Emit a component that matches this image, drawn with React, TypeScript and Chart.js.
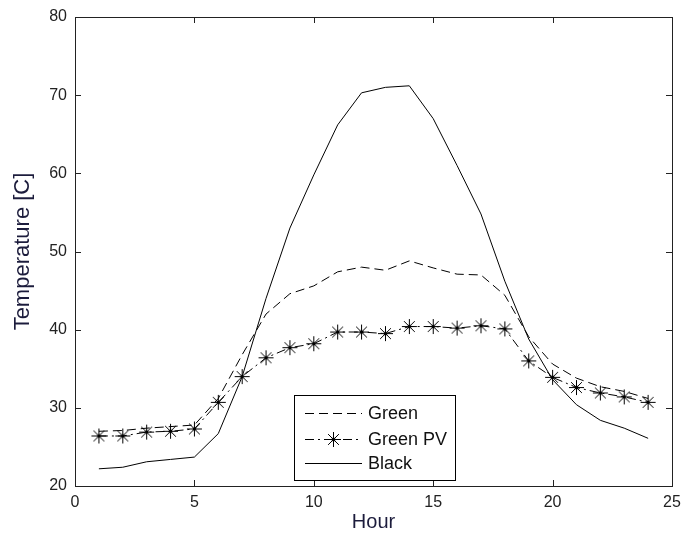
import React, { useEffect, useRef } from "react";
import { Chart, registerables } from "chart.js";

Chart.register(...registerables);

const hours = [1, 2, 3, 4, 5, 6, 7, 8, 9, 10, 11, 12, 13, 14, 15, 16, 17, 18, 19, 20, 21, 22, 23, 24];
const green = [27.0, 27.1, 27.4, 27.6, 27.8, 31.2, 36.8, 42.0, 44.6, 45.6, 47.4, 48.0, 47.6, 48.8, 47.9, 47.1, 47.0, 44.4, 39.1, 35.6, 33.8, 32.7, 32.1, 31.2];
const greenPV = [26.4, 26.4, 26.9, 27.0, 27.3, 30.7, 34.0, 36.4, 37.7, 38.2, 39.7, 39.7, 39.5, 40.4, 40.4, 40.2, 40.5, 40.1, 36.0, 33.9, 32.6, 31.9, 31.4, 30.7];
const black = [22.2, 22.4, 23.1, 23.4, 23.7, 26.7, 34.0, 44.0, 53.0, 59.8, 66.2, 70.3, 71.0, 71.2, 67.0, 61.0, 54.8, 46.2, 38.8, 33.6, 30.4, 28.4, 27.4, 26.1];
const seriesNames = ["Green", "Green PV", "Black"];
const xTicks = [0, 5, 10, 15, 20, 25];
const yTicks = [20, 30, 40, 50, 60, 70, 80];

const FONT = "'Liberation Sans', Arial, sans-serif";

function makeStar(): HTMLCanvasElement {
  const c = document.createElement("canvas");
  c.width = 17;
  c.height = 17;
  const g = c.getContext("2d")!;
  const cx = 8.5, cy = 8.5, r = 7.5;
  g.strokeStyle = "#000";
  g.lineWidth = 1;
  g.beginPath();
  g.moveTo(cx, cy - r); g.lineTo(cx, cy + r);
  g.moveTo(cx - r, cy); g.lineTo(cx + r, cy);
  const d = r * 0.72;
  g.moveTo(cx - d, cy - d); g.lineTo(cx + d, cy + d);
  g.moveTo(cx + d, cy - d); g.lineTo(cx - d, cy + d);
  g.stroke();
  g.fillStyle = "#000";
  g.beginPath();
  g.arc(cx, cy, 2, 0, Math.PI * 2);
  g.fill();
  return c;
}

export default function App() {
  const ref = useRef<HTMLCanvasElement>(null);
  useEffect(() => {
    const star = makeStar();
    const dashes = [[9, 5], [9, 4, 2, 4], []];

    const framePlugin = {
      id: "frame",
      afterDraw(chart: any) {
        const { ctx, chartArea: a } = chart;
        const xs = chart.scales.x, ys = chart.scales.y;
        ctx.save();
        ctx.strokeStyle = "#222";
        ctx.lineWidth = 1;
        ctx.setLineDash([]);
        ctx.strokeRect(Math.round(a.left) + 0.5, Math.round(a.top) + 0.5, Math.round(a.right - a.left), Math.round(a.bottom - a.top));
        const tl = 6;
        ctx.beginPath();
        xTicks.forEach((t) => {
          const px = Math.round(xs.getPixelForValue(t)) + 0.5;
          ctx.moveTo(px, a.bottom); ctx.lineTo(px, a.bottom - tl);
          ctx.moveTo(px, a.top); ctx.lineTo(px, a.top + tl);
        });
        yTicks.forEach((t) => {
          const py = Math.round(ys.getPixelForValue(t)) + 0.5;
          ctx.moveTo(a.left, py); ctx.lineTo(a.left + tl, py);
          ctx.moveTo(a.right, py); ctx.lineTo(a.right - tl, py);
        });
        ctx.stroke();

        // legend
        const bx = 294.5, by = 395.5, bw = 161, bh = 85;
        ctx.fillStyle = "#fff";
        ctx.fillRect(bx, by, bw, bh);
        ctx.strokeStyle = "#000";
        ctx.strokeRect(bx, by, bw, bh);
        const rows = [413, 439, 463];
        ctx.font = `18px ${FONT}`;
        ctx.textBaseline = "middle";
        ctx.textAlign = "left";
        seriesNames.forEach((name, i) => {
          const y = rows[i] + 0.5;
          ctx.setLineDash(dashes[i]);
          ctx.strokeStyle = "#000";
          ctx.beginPath();
          ctx.moveTo(305, y);
          ctx.lineTo(362, y);
          ctx.stroke();
          ctx.setLineDash([]);
          if (i === 1) ctx.drawImage(star, 333.5 - 8.5, y - 8.5);
          ctx.fillStyle = "#111";
          ctx.fillText(name, 368, rows[i] + 1);
        });
        ctx.restore();
      },
    };

    const mk = (label: string, data: number[], i: number) => ({
      label,
      data: hours.map((h, k) => ({ x: h, y: data[k] })),
      borderColor: "#000",
      backgroundColor: "#000",
      borderWidth: 1,
      borderDash: dashes[i],
      pointStyle: i === 1 ? star : "circle",
      pointRadius: i === 1 ? 7 : 0,
      tension: 0,
      fill: false,
    });

    const chart = new Chart(ref.current!, {
      type: "line",
      data: {
        datasets: [mk(seriesNames[0], green, 0), mk(seriesNames[1], greenPV, 1), mk(seriesNames[2], black, 2)],
      },
      plugins: [framePlugin],
      options: {
        animation: false,
        responsive: false,
        maintainAspectRatio: false,
        layout: { padding: { top: 17, right: 9, left: 0, bottom: 0 } },
        plugins: { legend: { display: false }, tooltip: { enabled: false } },
        scales: {
          x: {
            type: "linear",
            min: 0,
            max: 25,
            afterBuildTicks: (s: any) => { s.ticks = xTicks.map((v) => ({ value: v })); },
            afterFit: (s: any) => { s.height = 51; s.paddingRight = 0; s.paddingLeft = 0; },
            grid: { display: false, drawTicks: false },
            border: { display: false },
            ticks: { font: { family: FONT, size: 16 }, color: "#222", padding: 7, maxRotation: 0 },
            title: { display: true, text: "Hour", font: { family: FONT, size: 20 }, color: "#1c1c3c", padding: { top: 0, bottom: 3 } },
          },
          y: {
            type: "linear",
            min: 20,
            max: 80,
            afterBuildTicks: (s: any) => { s.ticks = yTicks.map((v) => ({ value: v })); },
            afterFit: (s: any) => { s.width = 75; s.paddingTop = 0; s.paddingBottom = 0; },
            grid: { display: false, drawTicks: false },
            border: { display: false },
            ticks: { font: { family: FONT, size: 16 }, color: "#222", padding: 8 },
            title: { display: true, text: "Temperature [C]", font: { family: FONT, size: 22 }, color: "#1c1c3c", padding: { top: 10, bottom: 0 } },
          },
        },
      },
    } as any);
    return () => chart.destroy();
  }, []);
  return (
    <div style={{ position: "fixed", left: 0, top: 0, width: 681, height: 537, background: "#fff" }}>
      <canvas ref={ref} width={681} height={537} style={{ width: 681, height: 537 }} />
    </div>
  );
}
